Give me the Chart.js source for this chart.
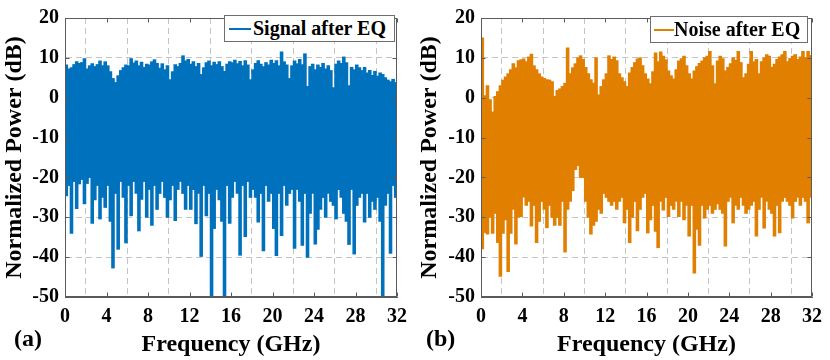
<!DOCTYPE html>
<html>
<head>
<meta charset="utf-8">
<script src="https://cdn.jsdelivr.net/npm/chart.js@4.4.0/dist/chart.umd.min.js"></script>
<style>
  body { margin: 0; background: #fff; }
  #wrap { position: relative; width: 830px; height: 360px; overflow: hidden; }
  .pane { position: absolute; top: 0; width: 415px; height: 360px; }
  .legend { position: absolute; box-sizing: border-box; background: #fff; border: 1px solid #6e6e6e;
            font: bold 20px "Liberation Serif", "Times New Roman", serif; color: #000; }
  .legend .ln { position: absolute; height: 2px; }
  .legend .tx { position: absolute; top: 0; line-height: 25px; white-space: nowrap; }
  .tag { position: absolute; font: bold 24px "Liberation Serif", "Times New Roman", serif; color: #000; }
</style>
</head>
<body>
<div id="wrap">
  <div class="pane" style="left:0"><canvas id="chart_a" width="415" height="360"></canvas></div>
  <div class="pane" style="left:415px"><canvas id="chart_b" width="415" height="360"></canvas></div>
  <div class="legend" style="left:224px;top:15px;width:171px;height:27px">
    <div class="ln" style="left:4px;top:12px;width:22px;background:#0072bd"></div>
    <div class="tx" style="left:28px">Signal after EQ</div>
  </div>
  <div class="legend" style="left:650px;top:16px;width:158px;height:27px">
    <div class="ln" style="left:3px;top:12px;width:20px;background:#e07f00"></div>
    <div class="tx" style="left:23px">Noise after EQ</div>
  </div>
  <div class="tag" style="left:14px;top:325px">(a)</div>
  <div class="tag" style="left:426px;top:325px">(b)</div>
</div>
<script>
// bin centres (GHz), 0.25 GHz wide bins
const freq = [
  0.125, 0.375, 0.625, 0.875, 1.125, 1.375, 1.625, 1.875, 2.125, 2.375, 2.625, 2.875, 3.125, 3.375, 3.625, 3.875,
  4.125, 4.375, 4.625, 4.875, 5.125, 5.375, 5.625, 5.875, 6.125, 6.375, 6.625, 6.875, 7.125, 7.375, 7.625, 7.875,
  8.125, 8.375, 8.625, 8.875, 9.125, 9.375, 9.625, 9.875, 10.125, 10.375, 10.625, 10.875, 11.125, 11.375, 11.625, 11.875,
  12.125, 12.375, 12.625, 12.875, 13.125, 13.375, 13.625, 13.875, 14.125, 14.375, 14.625, 14.875, 15.125, 15.375, 15.625, 15.875,
  16.125, 16.375, 16.625, 16.875, 17.125, 17.375, 17.625, 17.875, 18.125, 18.375, 18.625, 18.875, 19.125, 19.375, 19.625, 19.875,
  20.125, 20.375, 20.625, 20.875, 21.125, 21.375, 21.625, 21.875, 22.125, 22.375, 22.625, 22.875, 23.125, 23.375, 23.625, 23.875,
  24.125, 24.375, 24.625, 24.875, 25.125, 25.375, 25.625, 25.875, 26.125, 26.375, 26.625, 26.875, 27.125, 27.375, 27.625, 27.875,
  28.125, 28.375, 28.625, 28.875, 29.125, 29.375, 29.625, 29.875, 30.125, 30.375, 30.625, 30.875, 31.125, 31.375, 31.625, 31.875
];

// signal after EQ: max / min of each bin (dB)
const signalTop = [
  8.2, 7.2, 7.5, 8.3, 9.0, 8.6, 8.8, 9.8, 7.2, 8.0, 8.5, 7.8, 8.3, 9.2, 8.0, 9.0,
  8.0, 6.5, 4.8, 3.8, 5.5, 6.8, 7.5, 8.2, 8.0, 9.8, 8.7, 9.2, 8.0, 8.9, 7.6, 8.4,
  8.2, 9.0, 9.5, 8.6, 7.4, 8.5, 7.0, 8.0, 4.5, 6.5, 8.3, 7.8, 8.6, 10.5, 9.2, 9.6,
  8.4, 9.0, 7.8, 8.6, 5.8, 7.5, 8.8, 9.2, 8.0, 8.9, 8.3, 9.0, 7.8, 6.6, 8.4, 9.0,
  8.8, 9.4, 8.5, 9.1, 8.0, 9.3, 8.2, 4.5, 7.0, 8.6, 9.3, 8.4, 7.8, 8.8, 8.2, 9.4,
  8.6, 9.3, 8.0, 11.5, 9.0, 8.2, 4.8, 8.0, 9.2, 8.5, 9.6, 8.3, 11.0, 2.8, 7.8, 8.4,
  7.0, 8.2, 7.6, 8.6, 7.2, 8.0, 6.8, 2.5, 8.4, 9.2, 8.6, 10.2, 8.8, 3.0, 7.6, 7.0,
  8.2, 7.5, 6.8, 7.6, 6.2, 6.8, 5.6, 6.6, 5.4, 6.2, 5.8, 5.0, 4.4, 4.0, 4.6, 3.8
];
const signalLow = [
  -24.6, -22, -34, -21, -27.8, -21.6, -20.5, -26.6, -21.5, -20, -31.5, -25.6, -22, -30.4, -25, -27.5,
  -22, -31, -42.7, -24, -38, -21, -25, -36.4, -22, -29.6, -21, -24, -33.4, -25.5, -21, -30,
  -23, -32, -22, -28, -24, -21, -25, -30, -25.6, -22, -30.8, -23, -21, -24, -28, -22,
  -28, -23, -31.6, -24, -39.8, -22, -29.6, -24, -50, -32.8, -23, -25.6, -31, -50, -22, -31.5,
  -25, -21, -24, -39.5, -22, -34.8, -21, -25, -23, -25, -31.2, -24, -38.4, -22, -26, -24,
  -32.8, -39.6, -24, -34.6, -22, -27, -24, -23, -37.8, -23, -26, -37, -24, -40, -29, -24,
  -36.7, -33, -28, -25, -30, -24, -26, -27, -30.4, -23, -25, -29, -31, -36.8, -23, -39.2,
  -27, -25, -24, -31.2, -24, -30, -26, -28, -25, -31, -50, -27, -24, -39, -22, -25
];

// noise after EQ: max / min of each bin (dB)
const noiseTop = [
  15.0, 0.5, 3.0, -0.5, -3.6, 0.3, 1.5, 3.0, 4.4, 5.2, 6.0, 7.0, 8.5, 7.5, 9.3, 9.5,
  9.7, 9.0, 10.2, 10.9, 8.0, 7.0, 6.0, 5.2, 4.8, 4.5, 4.4, 4.0, 0.3, 1.8, 2.2, 2.8,
  3.6, 12.5, 6.0, 7.5, 8.5, 10.0, 10.5, 9.6, 7.6, 6.0, 4.5, 3.6, 10.0, 0.7, 2.8, 4.5,
  6.0, 10.5, 9.6, 10.2, 9.3, 6.0, 5.0, 4.0, 2.8, 6.2, 7.6, 8.8, 9.7, 10.0, 8.0, 6.0,
  4.7, 3.5, 6.5, 11.2, 9.0, 11.5, 10.4, 9.5, 6.7, 5.5, 4.7, 7.0, 9.2, 9.8, 10.4, 8.0,
  6.0, 4.7, 6.7, 7.8, 8.6, 9.2, 10.0, 10.4, 11.6, 8.0, 3.5, 9.2, 10.4, 9.8, 6.7, 7.6,
  8.5, 10.0, 9.4, 11.6, 8.8, 5.0, 6.0, 8.4, 11.6, 9.0, 9.6, 6.0, 9.0, 10.0, 10.8, 10.4,
  7.6, 8.4, 9.6, 10.2, 10.8, 11.6, 9.0, 9.8, 10.4, 10.8, 9.6, 10.2, 11.6, 10.0, 11.6, 10.6
];
const noiseLow = [
  -37.9, -33.8, -34.2, -30, -34, -29, -36.3, -44.8, -34, -30.6, -43.6, -34, -28, -36.7, -30, -29.8,
  -24.9, -27, -26, -32.2, -27, -36.3, -31, -26, -28, -32.6, -27, -30, -32, -30, -32, -26,
  -38.7, -28, -26, -23.3, -18, -17, -20, -20, -26, -30, -34.2, -32, -31, -28, -29, -24,
  -25, -26, -27, -26, -28, -26, -25, -31.4, -28, -36.3, -30, -26, -33.4, -28, -25, -24,
  -33.9, -30.6, -27, -33.5, -37.6, -26, -28.2, -25, -29.8, -27, -28, -26, -29.8, -26, -30.6, -27,
  -34.7, -27, -44, -33, -37, -27, -30.2, -28, -27, -29, -28, -26.6, -28, -29, -37.2, -26,
  -25, -31.4, -27, -28, -25, -27, -29, -28, -27, -26, -34.7, -28, -25, -32.7, -26, -28,
  -29, -34.7, -27, -33.9, -26, -25, -26, -27, -30.2, -26, -25, -27, -25, -26, -31.4, -25
];

const X_TICKS = [0, 4, 8, 12, 16, 20, 24, 28, 32];
const Y_TICKS = [-50, -40, -30, -20, -10, 0, 10, 20];

const FONT = '"Liberation Serif", "Times New Roman", serif';

// box round the axes + inward tick marks, matlab style
const framePlugin = {
    id: 'frame',
    afterDatasetsDraw(chart) {
        const { ctx, chartArea: a, scales } = chart;
        const L = Math.round(a.left) + 0.5, R = Math.round(a.right) - 0.5;
        const T = Math.round(a.top) + 0.5, B = Math.round(a.bottom) - 0.5;
        ctx.save();
        ctx.strokeStyle = '#5a5a5a';
        ctx.lineWidth = 1;
        ctx.strokeRect(L, T, R - L, B - T);
        ctx.beginPath();
        for (const t of scales.x.ticks) {
            const px = Math.round(scales.x.getPixelForValue(t.value)) + 0.5;
            ctx.moveTo(px, B); ctx.lineTo(px, B - 4);
            ctx.moveTo(px, T); ctx.lineTo(px, T + 4);
        }
        for (const t of scales.y.ticks) {
            const py = Math.round(scales.y.getPixelForValue(t.value)) + 0.5;
            ctx.moveTo(L, py); ctx.lineTo(L + 4, py);
            ctx.moveTo(R, py); ctx.lineTo(R - 4, py);
        }
        ctx.stroke();
        ctx.restore();
    }
};

function draw_panel(canvasId, top, low, color, plotLeft, padRight) {
    const points = [];
    for (let i = 0; i < freq.length; i++) {
        points.push({ x: freq[i], y: [low[i], top[i]] });
    }

    const config = {
        type: 'bar',
        data: {
            datasets: [{
                data: points,
                backgroundColor: color,
                borderWidth: 0,
                inflateAmount: 0.5,
                barPercentage: 1,
                categoryPercentage: 1
            }]
        },
        options: {
            responsive: false,
            animation: false,
            layout: { padding: { left: 0, right: padRight, top: 10, bottom: 0 } },
            plugins: {
                legend: { display: false },
                tooltip: { enabled: false }
            },
            scales: {
                x: {
                    type: 'linear',
                    min: 0,
                    max: 32,
                    offset: false,
                    afterBuildTicks: s => { s.ticks = X_TICKS.map(v => ({ value: v })); },
                    afterFit: s => { s.height = 63; },
                    grid: { color: '#c4c4c4', drawTicks: false },
                    border: { color: '#5a5a5a', dash: [6, 4] },
                    ticks: { color: '#000', padding: 8, maxRotation: 0, font: { family: FONT, size: 20, weight: 'bold' } },
                    title: {
                        display: true,
                        text: 'Frequency (GHz)',
                        color: '#000',
                        padding: { top: 0, bottom: 1 },
                        font: { family: FONT, size: 24, weight: 'bold' }
                    }
                },
                y: {
                    min: -50,
                    max: 20,
                    afterBuildTicks: s => { s.ticks = Y_TICKS.map(v => ({ value: v })); },
                    afterFit: s => { s.width = plotLeft; },
                    grid: { color: '#c4c4c4', drawTicks: false },
                    border: { color: '#5a5a5a', dash: [6, 4] },
                    ticks: { color: '#000', padding: 6, font: { family: FONT, size: 20, weight: 'bold' } },
                    title: {
                        display: true,
                        text: 'Normalized Power (dB)',
                        color: '#000',
                        padding: { top: 0, bottom: 0 },
                        font: { family: FONT, size: 24, weight: 'bold' }
                    }
                }
            }
        },
        plugins: [framePlugin]
    };

    return new Chart(document.getElementById(canvasId), config);
}

draw_panel('chart_a', signalTop, signalLow, '#0072bd', 65, 17);
draw_panel('chart_b', noiseTop, noiseLow, '#e07f00', 66, 14);
</script>
</body>
</html>
